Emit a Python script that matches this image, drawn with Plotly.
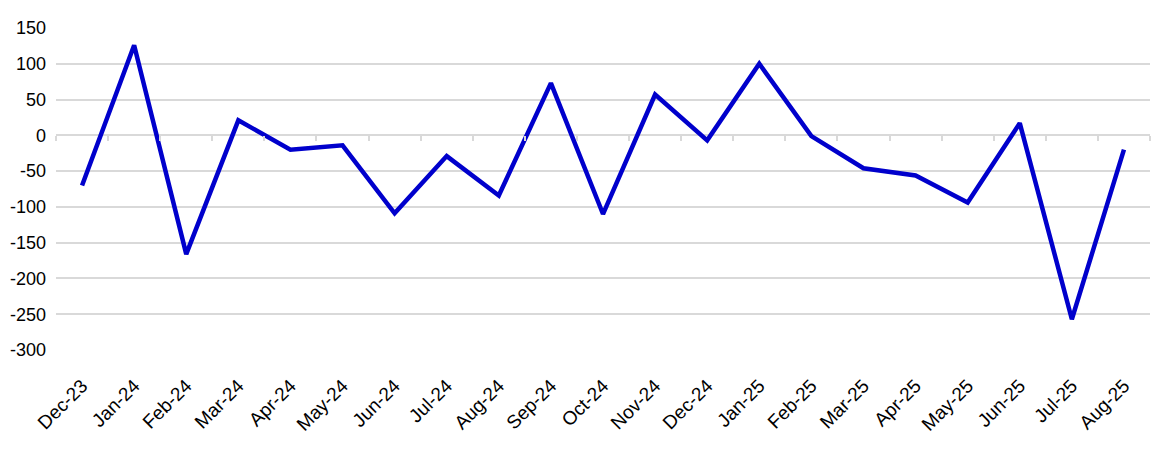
import plotly.graph_objects as go

meses = ["Dec-23", "Jan-24", "Feb-24", "Mar-24", "Apr-24", "May-24", "Jun-24",
         "Jul-24", "Aug-24", "Sep-24", "Oct-24", "Nov-24", "Dec-24", "Jan-25",
         "Feb-25", "Mar-25", "Apr-25", "May-25", "Jun-25", "Jul-25", "Aug-25"]
valores = [-70, 126, -166, 21, -20, -14, -109, -29, -84, 73, -110, 57, -7, 100,
           -1, -46, -56, -94, 17, -257, -20]
ticks_y = [150, 100, 50, 0, -50, -100, -150, -200, -250, -300]
etiquetas_y = ["150", "100", "50", "0", "-50", "-100", "-150", "-200", "-250", "-300"]

fig = go.Figure()

fig.add_trace(go.Scatter(
    x=meses,
    y=valores,
    mode='lines',
    line=dict(color='#0000CC', width=4.5),
    showlegend=False
))

# traza invisible para el eje de marcas sobre el cero
fig.add_trace(go.Scatter(
    x=meses,
    y=[None] * len(meses),
    xaxis='x2',
    mode='lines',
    showlegend=False,
    hoverinfo='skip'
))

y_min, y_max = -300, 150
x_rango = [-0.5, len(meses) - 0.5]

# la pagina tiene 8px de margen en body, se compensa aqui
fig.update_layout(
    width=1151,
    height=442,
    margin=dict(l=48, r=9, t=20, b=100),
    plot_bgcolor='#fff',
    paper_bgcolor='#fff',
    font=dict(family='Liberation Sans, Arial', size=19, color='#000'),
    xaxis=dict(
        type='category',
        range=x_rango,
        tickangle=-45,
        showgrid=False,
        zeroline=False,
        ticks='',
        ticklabelstandoff=20,
        automargin=False,
        tickfont=dict(size=19),
    ),
    xaxis2=dict(
        type='category',
        overlaying='x',
        range=x_rango,
        anchor='free',
        position=(0 - y_min) / (y_max - y_min),
        side='bottom',
        showticklabels=False,
        showgrid=False,
        showline=False,
        ticks='outside',
        tickson='boundaries',
        ticklen=5,
        tickwidth=1.5,
        tickcolor='#d9d9d9',
        automargin=False,
    ),
    yaxis=dict(
        range=[y_min, y_max],
        tickvals=ticks_y,
        ticktext=etiquetas_y,
        showgrid=True,
        gridcolor='#d9d9d9',
        gridwidth=2,
        zeroline=False,
        ticks='',
        ticklabelstandoff=9,
        automargin=False,
        tickfont=dict(size=18),
    ),
)

fig.write_html("out.html")
